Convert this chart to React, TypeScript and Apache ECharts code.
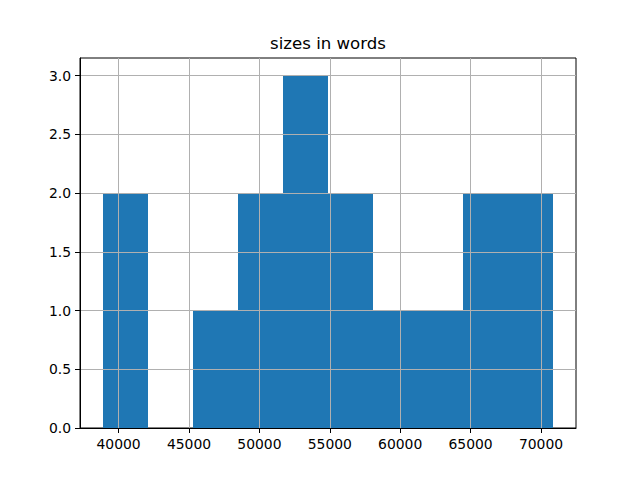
import React, { useEffect, useRef } from "react";
import * as echarts from "echarts";

const title = "sizes in words";
const binEdges = [38860, 42062, 45265, 48467, 51670, 54872, 58074, 61277, 64479, 67682, 70884];
const counts = [2, 0, 1, 2, 3, 2, 1, 1, 2, 2];
const xTicks = [40000, 45000, 50000, 55000, 60000, 65000, 70000];
const yTicks = [0, 0.5, 1.0, 1.5, 2.0, 2.5, 3.0];
const xRange = [37259, 72485];
const yRange = [0, 3.15];

export default function App() {
  const ref = useRef<HTMLDivElement>(null);
  useEffect(() => {
    if (!ref.current) return;
    const chart = echarts.init(ref.current, null, { renderer: "svg" });
    const font = "DejaVu Sans";
    const data = counts.map((c, i) => [binEdges[i], binEdges[i + 1], c]);
    chart.setOption({
      animation: false,
      textStyle: { fontFamily: font },
      grid: {
        left: 80,
        right: 64,
        top: 58,
        bottom: 52,
        show: true,
        borderColor: "#000",
        borderWidth: 1,
        backgroundColor: "transparent",
        containLabel: false,
      },
      graphic: [
        {
          type: "text",
          x: 328,
          y: 43,
          style: {
            text: title,
            fontSize: 16.6,
            fontFamily: font,
            fill: "#000",
            textAlign: "center",
            textVerticalAlign: "middle",
          },
        },
      ],
      xAxis: {
        type: "value",
        min: xRange[0],
        max: xRange[1],
        z: 5,
        axisLine: { show: true, lineStyle: { color: "#000", width: 1 } },
        axisTick: { show: true, length: 5, lineStyle: { color: "#000" }, customValues: xTicks },
        axisLabel: {
          customValues: xTicks,
          color: "#000",
          fontSize: 13.9,
          fontFamily: font,
          margin: 9,
          formatter: (v: number) => String(v),
        },
        splitLine: { show: true, lineStyle: { color: "#b0b0b0", width: 1 } },
      },
      yAxis: {
        type: "value",
        min: yRange[0],
        max: yRange[1],
        z: 5,
        axisLine: { show: true, lineStyle: { color: "#000", width: 1 } },
        axisTick: { show: true, length: 5, lineStyle: { color: "#000" }, customValues: yTicks },
        axisLabel: {
          customValues: yTicks,
          color: "#000",
          fontSize: 13.9,
          fontFamily: font,
          margin: 9,
          formatter: (v: number) => v.toFixed(1),
        },
        splitLine: { show: true, lineStyle: { color: "#b0b0b0", width: 1 } },
      },
      series: [
        {
          type: "custom",
          z: 1,
          data,
          renderItem: (params: any, api: any) => {
            const x0 = api.value(0);
            const x1 = api.value(1);
            const c = api.value(2);
            if (!c) return null;
            const p0 = api.coord([x0, c]);
            const p1 = api.coord([x1, 0]);
            const left = Math.round(p0[0]);
            const right = Math.round(p1[0]);
            const top = Math.round(p0[1]);
            const bottom = Math.round(p1[1]);
            return {
              type: "rect",
              shape: { x: left, y: top, width: right - left, height: bottom - top },
              style: { fill: "#1f77b4" },
            };
          },
        },
      ],
    });
    return () => chart.dispose();
  }, []);
  return (
    <div
      ref={ref}
      style={{ position: "fixed", left: 0, top: 0, width: 640, height: 480, background: "#fff" }}
    />
  );
}
